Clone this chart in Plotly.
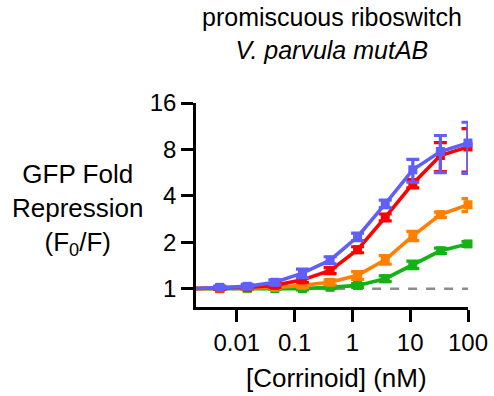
import plotly.graph_objects as go

# Concentrations (nM), 3-fold dilution series
conc = [0.00169, 0.00508, 0.0152, 0.0457, 0.137, 0.412, 1.23, 3.70, 11.1, 33.3, 100]

# Fold repression (F0/F) per corrinoid series
blue = [1.0, 1.02, 1.035, 1.10, 1.26, 1.53, 2.17, 3.55, 5.9, 7.75, 8.8]
red = [1.0, 1.01, 1.02, 1.05, 1.14, 1.31, 1.79, 2.9, 4.8, 7.3, 8.3]
orange = [1.0, 1.0, 1.01, 1.02, 1.05, 1.10, 1.22, 1.54, 2.2, 3.02, 3.5]
green = [1.0, 1.0, 1.0, 1.0, 1.0, 1.02, 1.05, 1.16, 1.43, 1.76, 1.95]

blue_err = [0, 0.02, 0.03, 0.04, 0.08, 0.08, 0.12, 0.2, 1.0, 2.1, 3.2]
red_err = [0, 0.02, 0.02, 0.03, 0.04, 0.06, 0.08, 0.15, 0.3, 1.55, 2.6]
orange_err = [0, 0.01, 0.02, 0.02, 0.03, 0.04, 0.07, 0.1, 0.15, 0.12, 0.34]
green_err = [0, 0.01, 0.01, 0.01, 0.02, 0.02, 0.03, 0.05, 0.08, 0.07, 0.07]

baseline = [1, 1]
baseline_x = [conc[0], conc[-1]]

x_ticks = [0.01, 0.1, 1, 10, 100]
x_ticktext = ["0.01", "0.1", "1", "10", "100"]
y_ticks = [1, 2, 4, 8, 16]
y_ticktext = ["1", "2", "4", "8", "16"]

series = [
    (green, green_err, "rgb(20,178,20)"),
    (orange, orange_err, "rgb(255,128,0)"),
    (red, red_err, "rgb(255,0,0)"),
    (blue, blue_err, "rgb(95,95,250)"),
]

FONT = "Arial, Liberation Sans, sans-serif"

fig = go.Figure()
fig.add_trace(go.Scatter(
    x=baseline_x, y=baseline, mode="lines",
    line=dict(color="rgb(140,140,140)", width=2.5, dash="dash"),
    hoverinfo="skip", showlegend=False))

for vals, err, col in series:
    fig.add_trace(go.Scatter(
        x=conc, y=vals, mode="lines",
        line=dict(color=col, width=3.6),
        showlegend=False, cliponaxis=True))
    fig.add_trace(go.Scatter(
        x=conc[1:], y=vals[1:], mode="markers",
        marker=dict(symbol="square", size=9, color=col),
        error_y=dict(type="data", array=err[1:], color=col, thickness=3.2, width=6.5),
        showlegend=False, cliponaxis=False))

fig.update_layout(
    width=494, height=396,
    margin=dict(l=196, r=26, t=103, b=89, autoexpand=False),
    paper_bgcolor="white", plot_bgcolor="white",
    font=dict(family=FONT, color="black"),
    xaxis=dict(type="log", range=[-2.705, 2.0], tickvals=x_ticks, ticktext=x_ticktext,
               ticks="outside", ticklen=12, tickwidth=2.5, tickcolor="black",
               showline=True, linewidth=2.5, linecolor="black",
               showgrid=False, zeroline=False, tickfont=dict(size=24, family=FONT)),
    yaxis=dict(type="log", range=[-0.119, 1.2041], tickvals=y_ticks, ticktext=y_ticktext,
               ticks="outside", ticklen=12, tickwidth=2.5, tickcolor="black",
               showline=True, linewidth=2.5, linecolor="black",
               showgrid=False, zeroline=False, tickfont=dict(size=24, family=FONT)),
    annotations=[
        dict(text="promiscuous riboswitch<br><i>V. parvula mutAB</i>",
             xref="paper", yref="paper", x=0.5, y=1.34, xanchor="center", yanchor="middle",
             showarrow=False, font=dict(size=25, family=FONT)),
        dict(text="GFP Fold<br>Repression<br>(F<sub>0</sub>/F)",
             xref="paper", yref="paper", x=-0.434, y=0.477, xanchor="center", yanchor="middle",
             showarrow=False, font=dict(size=26, family=FONT)),
        dict(text="[Corrinoid] (nM)",
             xref="paper", yref="paper", x=0.515, y=-0.347, xanchor="center", yanchor="middle",
             showarrow=False, font=dict(size=26, family=FONT)),
    ],
)

fig.write_html("out.html")
